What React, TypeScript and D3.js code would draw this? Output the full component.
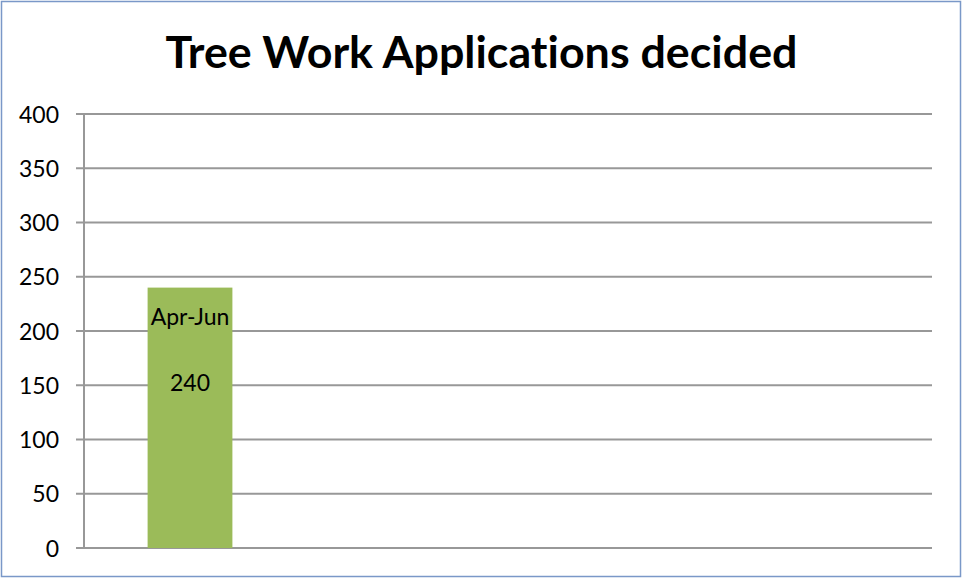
import React from "react";
import * as d3 from "d3";

const title = "Tree Work Applications decided";
const categories = ["Apr-Jun", "Jul-Sep", "Oct-Dec", "Jan-Mar"];
const values: (number | null)[] = [240, null, null, null];
const yTicks = [0, 50, 100, 150, 200, 250, 300, 350, 400];

const W = 962;
const H = 578;
const M = { left: 84, right: 30, top: 114, bottom: 30 };

export default function App() {
  const x = d3
    .scaleBand<string>()
    .domain(categories)
    .range([M.left, W - M.right])
    .padding(0);
  const y = d3.scaleLinear().domain([0, 400]).range([H - M.bottom, M.top]);
  const barW = x.bandwidth() / 2.5;
  const font = "Lato, 'Open Sans', sans-serif";
  const grid = "#989898";

  return (
    <div style={{ position: "absolute", left: 0, top: 0 }}>
      <svg width={W} height={H} style={{ display: "block", fontVariantLigatures: "none" }}>
        <rect x={0} y={0} width={W} height={H} fill="#fff" />
        <rect
          x={1.5}
          y={1.5}
          width={W - 3}
          height={H - 3}
          fill="none"
          stroke="#7a98c8"
          strokeWidth={1.5}
        />
        <text
          x={W / 2 + 0.5}
          y={68}
          textAnchor="middle"
          fontFamily={font}
          fontWeight={700}
          fontSize={44}
          textLength={632}
          lengthAdjust="spacingAndGlyphs"
          fill="#000"
          style={{ fontVariantLigatures: "none" }}
        >
          {title}
        </text>
        {yTicks.map((t) => (
          <g key={t}>
            <line
              x1={M.left - 8}
              x2={W - M.right}
              y1={y(t)}
              y2={y(t)}
              stroke={grid}
              strokeWidth={2}
            />
            <text
              x={59}
              y={y(t) + 8.5}
              textAnchor="end"
              fontFamily={font}
              fontSize={23}
              fill="#000"
            >
              {t}
            </text>
          </g>
        ))}
        <line
          x1={M.left}
          x2={M.left}
          y1={y(400)}
          y2={y(0)}
          stroke={grid}
          strokeWidth={2}
        />
        {categories.map((c, i) => {
          const v = values[i];
          if (v == null) return null;
          const cx = (x(c) as number) + x.bandwidth() / 2;
          return (
            <g key={c}>
              <rect
                x={cx - barW / 2}
                y={y(v)}
                width={barW}
                height={y(0) - y(v)}
                fill="#9bbb59"
              />
              <text
                x={cx}
                y={y(v) + 37}
                textAnchor="middle"
                fontFamily={font}
                fontSize={23}
                fill="#000"
              >
                {c}
              </text>
              <text
                x={cx}
                y={y(v) + 103}
                textAnchor="middle"
                fontFamily={font}
                fontSize={23}
                fill="#000"
              >
                {v}
              </text>
            </g>
          );
        })}
      </svg>
    </div>
  );
}
